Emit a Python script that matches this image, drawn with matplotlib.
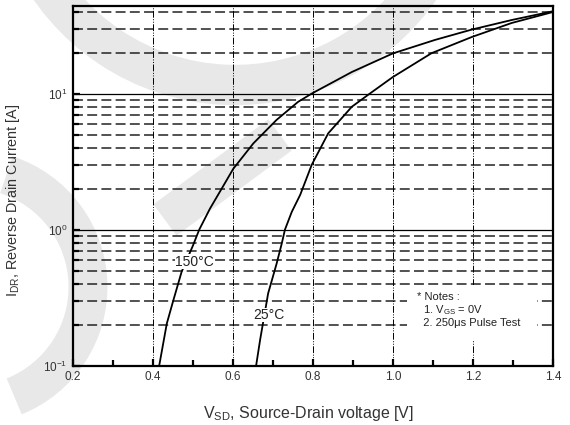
import numpy as np
import matplotlib
matplotlib.use("Agg")
import matplotlib.pyplot as plt
from matplotlib.patches import Arc, Rectangle
from matplotlib.lines import Line2D
from matplotlib.transforms import IdentityTransform

plt.rcParams['font.family'] = ['Liberation Sans Narrow', 'Liberation Sans', 'DejaVu Sans']
plt.rcParams['mathtext.default'] = 'regular'

# curves
v_150 = [0.416, 0.435, 0.451, 0.472, 0.50, 0.516, 0.543, 0.572, 0.601, 0.651,
         0.709, 0.763, 0.797, 0.897, 0.999, 1.105, 1.196, 1.296, 1.40]
i_150 = [0.1, 0.204, 0.30, 0.49, 0.76, 1.0, 1.43, 2.0, 2.8, 4.3,
         6.4, 8.7, 10.0, 14.4, 19.7, 24.8, 29.5, 34.7, 40.3]

v_25 = [0.658, 0.668, 0.688, 0.709, 0.722, 0.730, 0.747, 0.768, 0.797, 0.838,
        0.897, 0.942, 0.999, 1.096, 1.196, 1.296, 1.40]
i_25 = [0.1, 0.155, 0.34, 0.56, 0.79, 1.0, 1.35, 1.8, 3.0, 5.1,
        8.0, 10.0, 13.2, 19.8, 26.0, 33.0, 39.8]

x_ticks = [0.2, 0.4, 0.6, 0.8, 1.0, 1.2, 1.4]
x_tick_labels = ['0.2', '0.4', '0.6', '0.8', '1.0', '1.2', '1.4']
y_ticks = [0.1, 1, 10]
y_tick_labels = [r'10$^{-1}$', r'10$^{0}$', r'10$^{1}$']
y_minor = [k * d for d in (0.1, 1, 10) for k in range(2, 10) if k * d < 44]

fig = plt.figure(figsize=(5.7, 4.25), dpi=100)
H = 425

# faint logo watermark behind the chart (pixel coords)
wm = '#e8e8e8'
idt = IdentityTransform()
fig.patches.append(Arc((235, H + 140), 2 * 225, 2 * 225, theta1=205, theta2=330,
                       lw=29, color=wm, transform=idt, zorder=-5))
fig.patches.append(Arc((-30, H - 287), 2 * 118, 2 * 118, theta1=-68, theta2=72,
                       lw=28, color=wm, transform=idt, zorder=-5))
fig.lines.append(Line2D([280, 165], [H - 135, H - 220], lw=28, color=wm,
                        solid_capstyle='butt', transform=idt, zorder=-5))

ax = fig.add_axes([0.1275, 0.1395, 0.8432, 0.8464])
ax.set_facecolor('none')
ax.set_yscale('log')
ax.set_xlim(0.2, 1.4)
ax.set_ylim(0.1, 44)

# grid
for y in y_ticks:
    ax.axhline(y, color='black', lw=0.9, zorder=1)
for y in y_minor:
    ax.axhline(y, color='#222222', lw=1.1, linestyle=(0, (6.5, 2.8)), zorder=1)
for x in x_ticks[1:-1]:
    ax.axvline(x, color='black', lw=0.7, linestyle=(0, (7, 1.6, 1, 1.6, 1, 1.6)), zorder=1)

ax.plot(v_150, i_150, color='black', lw=1.3, zorder=3)
ax.plot(v_25, i_25, color='black', lw=1.3, zorder=3)

ax.text(0.505, 0.58, '150°C', fontsize=10, color='#222222', ha='center', va='center',
        bbox=dict(facecolor='white', edgecolor='none', pad=0.3), zorder=4)
ax.text(0.69, 0.236, '25°C', fontsize=10, color='#222222', ha='center', va='center',
        bbox=dict(facecolor='white', edgecolor='none', pad=0.3), zorder=4)

# blank area behind the notes
ax.add_patch(Rectangle((1.035, 0.155), 0.325, 0.235, facecolor='white',
                       edgecolor='none', zorder=2))
notes = '* Notes :\n  1. V$_{GS}$ = 0V\n  2. 250μs Pulse Test'
ax.text(1.06, 0.35, notes, fontsize=8, color='#222222', ha='left', va='top',
        linespacing=1.12, zorder=4)

ax.set_xticks(x_ticks)
ax.set_xticklabels(x_tick_labels)
ax.set_xticks(np.arange(0.3, 1.4, 0.2), minor=True)
ax.set_yticks(y_ticks)
ax.set_yticklabels(y_tick_labels)
ax.set_yticks(y_minor, minor=True)
ax.yaxis.set_minor_formatter(matplotlib.ticker.NullFormatter())

ax.tick_params(which='both', direction='in', top=False, right=False, width=1.6,
               colors='black', labelcolor='#333333', labelsize=8.5)
ax.tick_params(which='major', length=5, pad=4)
ax.tick_params(which='minor', length=4)

for s in ax.spines.values():
    s.set_linewidth(1.6)

ax.set_xlabel('V$_{SD}$, Source-Drain voltage [V]', fontsize=11.5, color='#333333')
ax.set_ylabel('I$_{DR}$, Reverse Drain Current [A]', fontsize=10.4, color='#333333')
ax.xaxis.set_label_coords(0.49, -0.106)
ax.yaxis.set_label_coords(-0.105, 0.46)

fig.savefig('out.png', dpi=100)
